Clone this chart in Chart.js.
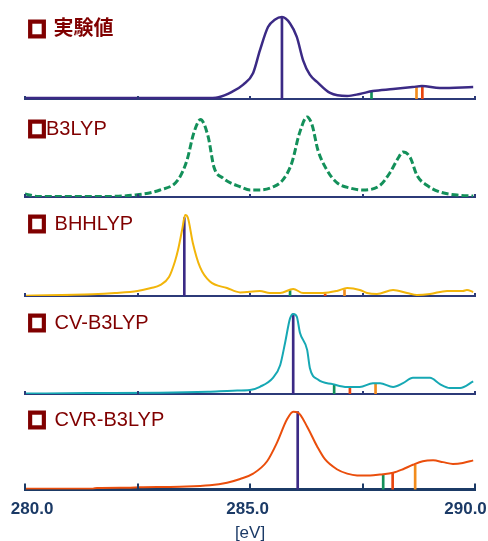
<!DOCTYPE html>
<html>
<head>
<meta charset="utf-8">
<script src="https://cdn.jsdelivr.net/npm/chart.js@4"></script>
<style>
  body { margin: 0; background: #fff; }
  #wrap { position: relative; width: 488px; height: 541px; overflow: hidden; }
  canvas { position: absolute; left: 0; }
  .ttl {
    position: absolute; left: 28px; color: #800000;
    font: 20px/20px "Liberation Sans", Arial, sans-serif; white-space: nowrap;
  }
  .ttl.jp { font-family: "Noto Sans CJK JP", sans-serif; font-weight: bold; }
  .sq {
    font-family: "Noto Sans CJK JP", sans-serif; font-size: 18px;
    -webkit-text-stroke: 3.5px #800000; margin-right: 3px;
    position: relative; top: 1px;
  }
</style>
</head>
<body>
<div id="wrap">
  <canvas id="c1" width="488" height="100"></canvas>
  <canvas id="c2" width="488" height="100"></canvas>
  <canvas id="c3" width="488" height="100"></canvas>
  <canvas id="c4" width="488" height="100"></canvas>
  <canvas id="c5" width="488" height="150"></canvas>
</div>
<script>
// 実験値
const expX = [280.0, 281.0, 282.0, 283.0, 284.0, 284.3, 284.6, 284.85, 285.07, 285.22, 285.4, 285.55, 285.71, 285.89, 286.04, 286.18, 286.33, 286.49, 286.78, 287.16, 287.44, 287.73, 288.18, 288.62, 288.82, 289.22, 289.96];
const expY = [0.01, 0.01, 0.01, 0.01, 0.01, 0.02, 0.08, 0.16, 0.29, 0.54, 0.8, 0.88, 0.91, 0.84, 0.69, 0.43, 0.27, 0.19, 0.067, 0.033, 0.056, 0.089, 0.11, 0.133, 0.144, 0.122, 0.133];
const expStickX = [285.71, 287.7, 288.83, 288.7];
const expStickY = [0.91, 0.085, 0.14, 0.14];

// B3LYP
const b3X = [280.0, 280.3, 281.0, 281.7, 282.4, 283.0, 283.4, 283.6, 283.75, 283.9, 284.07, 284.2, 284.4, 284.8, 285.0, 285.22, 285.5, 285.73, 285.93, 286.1, 286.27, 286.38, 286.51, 286.71, 286.93, 287.22, 287.51, 287.89, 288.11, 288.29, 288.4, 288.56, 288.71, 288.93, 289.22, 289.6, 289.96];
const b3Y = [0.033, 0.006, 0.006, 0.006, 0.02, 0.078, 0.19, 0.41, 0.71, 0.86, 0.67, 0.33, 0.21, 0.11, 0.078, 0.078, 0.11, 0.19, 0.38, 0.71, 0.89, 0.8, 0.52, 0.3, 0.16, 0.1, 0.078, 0.13, 0.27, 0.43, 0.5, 0.44, 0.24, 0.13, 0.056, 0.022, 0.011];

// BHHLYP
const bhX = [280.0, 281.5, 282.0, 282.5, 282.8, 283.0, 283.2, 283.33, 283.4, 283.49, 283.56, 283.62, 283.73, 283.89, 284.11, 284.49, 284.78, 285.22, 285.44, 285.67, 285.96, 286.18, 286.62, 286.93, 287.16, 287.44, 287.6, 287.82, 288.18, 288.49, 288.71, 289.0, 289.38, 289.73, 289.82, 289.96];
const bhY = [0.003, 0.019, 0.033, 0.056, 0.089, 0.12, 0.21, 0.38, 0.51, 0.73, 0.9, 0.87, 0.59, 0.32, 0.16, 0.089, 0.04, 0.056, 0.033, 0.033, 0.078, 0.033, 0.033, 0.056, 0.089, 0.067, 0.033, 0.022, 0.067, 0.033, 0.011, 0.022, 0.056, 0.056, 0.067, 0.044];
const bhStickX = [283.54, 285.89, 286.67, 287.1];
const bhStickY = [0.87, 0.06, 0.025, 0.07];

// CV-B3LYP
const cvX = [280.0, 281.4, 283.0, 284.07, 284.62, 285.0, 285.22, 285.51, 285.67, 285.78, 285.89, 285.96, 286.04, 286.11, 286.27, 286.33, 286.51, 286.84, 287.16, 287.44, 287.73, 287.89, 288.18, 288.4, 288.62, 289.0, 289.22, 289.44, 289.67, 289.96];
const cvY = [0.005, 0.01, 0.015, 0.026, 0.037, 0.044, 0.08, 0.18, 0.32, 0.57, 0.84, 0.89, 0.86, 0.68, 0.49, 0.29, 0.16, 0.11, 0.078, 0.078, 0.12, 0.12, 0.078, 0.12, 0.18, 0.18, 0.11, 0.067, 0.067, 0.14];
const cvStickX = [285.96, 286.87, 287.22, 287.79];
const cvStickY = [0.89, 0.1, 0.07, 0.12];

// CVR-B3LYP
const cvrX = [280.0, 281.51, 281.6, 282.27, 282.56, 283.44, 284.11, 284.49, 284.78, 285.07, 285.38, 285.6, 285.82, 285.96, 286.07, 286.27, 286.49, 286.67, 286.93, 287.16, 287.38, 287.67, 287.89, 288.18, 288.4, 288.62, 288.84, 289.07, 289.29, 289.51, 289.73, 289.96];
const cvrY = [0.01, 0.011, 0.019, 0.022, 0.026, 0.033, 0.048, 0.078, 0.12, 0.18, 0.32, 0.53, 0.79, 0.88, 0.87, 0.71, 0.49, 0.34, 0.23, 0.18, 0.16, 0.16, 0.17, 0.19, 0.23, 0.28, 0.32, 0.33, 0.31, 0.29, 0.3, 0.33];
const cvrStickX = [286.06, 287.96, 288.17, 288.67];
const cvrStickY = [0.88, 0.17, 0.19, 0.28];

const titles = ["実験値", "B3LYP", "BHHLYP", "CV-B3LYP", "CVR-B3LYP"];
const tickLabels = ["280.0", "285.0", "290.0"];

// colores
const stickColors = ["#3b2a85", "#13905a", "#e8440e", "#f28c1c"];
const axisColor = "#2c3a78";
const labelColor = "#1b3a66";

Chart.defaults.font.family = "'Liberation Sans', Arial, sans-serif";

// marcas del eje hacia arriba
const upTicks = {
  id: "upTicks",
  afterDatasetsDraw(chart, args, opts) {
    const sx = chart.scales.x;
    const ctx = chart.ctx;
    const y0 = chart.chartArea.bottom;
    ctx.save();
    ctx.strokeStyle = opts.color;
    ctx.lineWidth = opts.width;
    sx.ticks.forEach((t) => {
      const px = Math.round(sx.getPixelForValue(t.value));
      ctx.beginPath();
      ctx.moveTo(px, y0);
      ctx.lineTo(px, y0 - opts.len);
      ctx.stroke();
    });
    ctx.restore();
  },
};

function toPts(xs, ys) {
  return xs.map((x, i) => ({ x: x, y: ys[i] }));
}

// la primera y la ultima etiqueta van metidas hacia dentro como en la imagen
function tickText(v) {
  const s = v.toFixed(1);
  if (!tickLabels.includes(s)) return "";
  if (s === tickLabels[0]) return "   " + s;
  if (s === tickLabels[tickLabels.length - 1]) return s + "    ";
  return s + " ";
}

function makePanel(id, top, curve, sticks, last) {
  const cv = document.getElementById(id);
  cv.style.top = top + "px";
  const datasets = [
    {
      type: "line",
      data: toPts(curve.x, curve.y),
      borderColor: curve.color,
      borderWidth: curve.width || 2,
      borderDash: curve.dash || [],
      pointRadius: 0,
      fill: false,
      cubicInterpolationMode: "monotone",
    },
  ];
  if (sticks) {
    datasets.push({
      type: "bar",
      data: toPts(sticks.x, sticks.y),
      backgroundColor: stickColors,
      barThickness: 2,
      grouped: false,
    });
  }
  return new Chart(cv, {
    type: "line",
    data: { datasets: datasets },
    plugins: [upTicks],
    options: {
      responsive: false,
      animation: false,
      devicePixelRatio: 1,
      layout: { padding: { top: 5, bottom: last ? 0 : 5, left: 25, right: 13 } },
      plugins: {
        legend: { display: false },
        tooltip: { enabled: false },
        upTicks: { color: last ? labelColor : axisColor, width: 2, len: last ? 6 : 3 },
      },
      scales: {
        x: {
          type: "linear",
          min: 280,
          max: 290,
          offset: false,
          afterFit: (s) => {
            // que las etiquetas no encojan el area
            s.paddingLeft = 0;
            s.paddingRight = 0;
          },
          grid: { display: false, drawTicks: false },
          border: { display: true, color: last ? labelColor : axisColor, width: last ? 3 : 2 },
          ticks: {
            display: !!last,
            stepSize: 2.5,
            autoSkip: false,
            maxRotation: 0,
            padding: 11,
            color: labelColor,
            font: { size: 17, weight: "bold", lineHeight: 1 },
            callback: tickText,
          },
          title: {
            display: !!last,
            text: "[eV]",
            color: labelColor,
            font: { size: 17 },
            padding: { top: -5, bottom: 2 },
          },
        },
        y: { display: false, min: 0, max: 1 },
      },
    },
  });
}

const baselines = [99, 197, 296, 394, 491];
makePanel("c1", baselines[0] - 95, { x: expX, y: expY, color: "#3b2a85", width: 2.5 },
  { x: expStickX, y: expStickY });
makePanel("c2", baselines[1] - 95, { x: b3X, y: b3Y, color: "#13905a", width: 3, dash: [7, 3] }, null);
makePanel("c3", baselines[2] - 95, { x: bhX, y: bhY, color: "#f2b50a" },
  { x: bhStickX, y: bhStickY });
makePanel("c4", baselines[3] - 95, { x: cvX, y: cvY, color: "#16a8b4" },
  { x: cvStickX, y: cvStickY });
makePanel("c5", baselines[4] - 95, { x: cvrX, y: cvrY, color: "#ea4e0c" },
  { x: cvrStickX, y: cvrStickY }, true);

// titulos
const titleTops = [17, 117, 212, 311, 408];
const wrap = document.getElementById("wrap");
titles.forEach((t, i) => {
  const d = document.createElement("div");
  d.className = "ttl" + (i === 0 ? " jp" : "");
  d.style.top = titleTops[i] + "px";
  const sq = document.createElement("span");
  sq.className = "sq";
  sq.textContent = "□";
  if (i === 1) sq.style.marginRight = "0px";
  d.appendChild(sq);
  d.appendChild(document.createTextNode((i === 1 ? "" : " ") + t));
  wrap.appendChild(d);
});
</script>
</body>
</html>
